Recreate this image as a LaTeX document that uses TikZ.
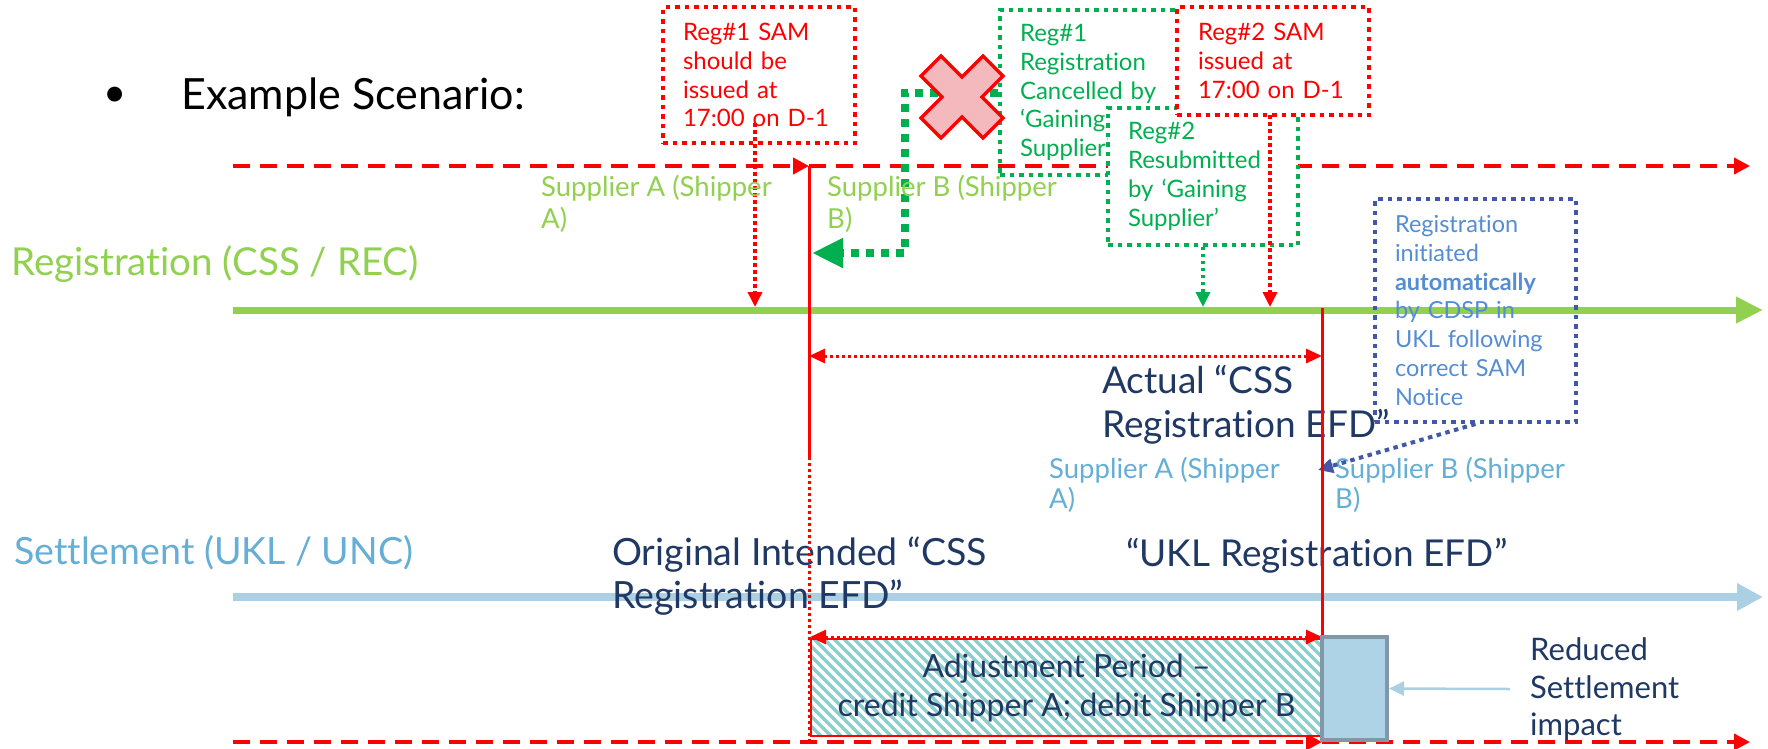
\documentclass[tikz,border=0pt]{standalone}
\usepackage{fontspec}
\setmainfont{Lato}[Ligatures={NoCommon,NoContextual}]
\usetikzlibrary{arrows.meta}
\definecolor{regred}{RGB}{255,0,0}
\definecolor{reggreen}{RGB}{146,208,80}
\definecolor{boxgreen}{RGB}{0,176,80}
\definecolor{setblue}{RGB}{172,208,227}
\definecolor{lblblue}{RGB}{101,174,214}
\definecolor{navy}{RGB}{31,56,100}
\definecolor{boxblue}{RGB}{66,87,168}
\definecolor{txtblue}{RGB}{84,141,212}
\definecolor{xpink}{RGB}{244,185,189}
\definecolor{hatchc}{RGB}{140,206,206}
\definecolor{impactfill}{RGB}{174,210,230}
\definecolor{impactdraw}{RGB}{128,152,168}
\tikzset{
  reddash/.style={draw=regred, line width=4pt, dash pattern=on 17pt off 10pt, -{Triangle[length=16pt,width=16pt]}},
  tlbox/.style={rectangle, line width=4pt, dash pattern=on 4.5pt off 5pt, inner xsep=20pt, inner ysep=0pt, align=left, font=\fontsize{24pt}{28.8pt}\selectfont},
  redbox/.style={tlbox, draw=regred, text=regred},
  greenbox/.style={tlbox, draw=boxgreen, text=boxgreen, line width=3.5pt},
  bluebox/.style={tlbox, draw=boxblue, text=txtblue, font=\fontsize{23.5pt}{28.7pt}\selectfont},
  dotarrow/.style={line width=3.5pt, dash pattern=on 3.5pt off 3.5pt, -{Triangle[length=15pt,width=14pt]}},
  dblarrow/.style={draw=regred, line width=3pt, dash pattern=on 3pt off 3pt, {Triangle[length=16pt,width=14pt]}-{Triangle[length=16pt,width=14pt]}},
  lbl/.style={inner sep=0pt, anchor=west, align=left},
  suplbl/.style={lbl, font=\fontsize{27.5pt}{31.5pt}\selectfont},
  bigtxt/.style={lbl, text=navy, font=\fontsize{37pt}{44pt}\selectfont},
}
\begin{document}
\begin{tikzpicture}[x=1pt,y=-1pt]
\useasboundingbox (0,0) rectangle (1768,748);
% coordinates
\coordinate (dl1) at (233,166);
\coordinate (v1top) at (809,166);
\coordinate (dr1) at (1750,166);
\coordinate (dl2) at (233,742);
\coordinate (v2bot) at (1322,742);
\coordinate (dr2) at (1750,742);
\coordinate (v1mid) at (809,457);
\coordinate (v1bot) at (809,742);
\coordinate (v2top) at (1322,308);
\coordinate (gl) at (233,310);
\coordinate (gr) at (1763,310);
\coordinate (sl) at (233,597);
\coordinate (sr) at (1763,597);

% timeline lines
\draw[reddash] (dl1) -- (v1top);
\draw[reddash] (v1top) -- (dr1);
\draw[reddash] (dl2) -- (v2bot);
\draw[reddash] (v2bot) -- (dr2);
\draw[reggreen, line width=7pt, -{Triangle[length=27pt,width=25pt]}] (gl) -- (gr);
\draw[setblue, line width=8pt, -{Triangle[length=26pt,width=26pt]}] (sl) -- (sr);

% boxes
\node[greenbox, minimum width=190pt, minimum height=165pt, text width=150pt] (can1) at (1095,92.5) {Reg\#1\\Registration\\Cancelled by\\‘Gaining\\Supplier’};
\coordinate (gturn) at (905,253);
\coordinate (gtip) at (812,253);
\draw[boxgreen, line width=8pt, dash pattern=on 8pt off 7pt, -{Triangle[length=31pt,width=28pt]}] (can1.west) -| (gturn) -- (gtip);
\coordinate (xc) at (962,97);
\draw[regred, fill=xpink, line width=3.5pt, line join=miter, shift={(xc)}]
  (-41,-21) -- (-21,-41) -- (0,-20) -- (21,-41) -- (41,-21) -- (20,0) -- (41,21) -- (21,41) -- (0,20) -- (-21,41) -- (-41,21) -- (-20,0) -- cycle;
\node[redbox, fill=white, minimum width=192pt, minimum height=136pt, text width=152pt] (sam1) at (759,75) {Reg\#1 SAM\\should be\\issued at\\17:00 on D-1};
\node[greenbox, fill=white, minimum width=190pt, minimum height=137pt, text width=150pt] (res2) at (1203,176.5) {Reg\#2\\Resubmitted\\by ‘Gaining\\Supplier’};
\node[redbox, fill=white, minimum width=192pt, minimum height=108pt, text width=150pt] (sam2) at (1273,61) {Reg\#2 SAM\\issued at\\17:00 on D-1};

% box arrows
\coordinate (s1a) at (755,123);
\coordinate (s1b) at (755,307);
\draw[dotarrow, regred] (s1a) -- (s1b);
\coordinate (s2a) at (1270,115);
\coordinate (s2b) at (1270,307);
\draw[dotarrow, regred] (s2a) -- (s2b);
\coordinate (r2b) at (1203,307);
\draw[dotarrow, boxgreen] (res2.south) -- (r2b);

% labels
\node[inner sep=0pt, font=\fontsize{40pt}{46pt}\selectfont] (bullet) at (115,97) {•};
\node[lbl, font=\fontsize{43pt}{48pt}\selectfont] (example) at (181,97) {Example Scenario:};
\node[lbl, text=reggreen, font=\fontsize{38.5pt}{44pt}\selectfont] (reglbl) at (11,264) {Registration (CSS / REC)};
\node[lbl, text=lblblue, font=\fontsize{37.5pt}{44pt}\selectfont] (setlbl) at (14,553) {Settlement (UKL / UNC)};
\node[suplbl, text=reggreen] (supA1) at (541,204) {Supplier A (Shipper\\A)};
\node[suplbl, text=reggreen] (supB1) at (827,204) {Supplier B (Shipper\\B)};
\node[suplbl, text=lblblue, font=\fontsize{27.5pt}{30pt}\selectfont] (supA2) at (1049,485) {Supplier A (Shipper\\A)};
\node[suplbl, text=lblblue, font=\fontsize{27.5pt}{30pt}\selectfont] (supB2) at (1335,485) {Supplier B (Shipper\\B)};
\node[bigtxt] (actual) at (1102,405) {Actual “CSS\\Registration EFD”};
\node[bigtxt, font=\fontsize{37.5pt}{43pt}\selectfont] (orig) at (612,576.5) {Original Intended “CSS\\Registration EFD”};
\node[bigtxt] (ukl) at (1126,556) {“UKL Registration EFD”};

% blue box
\node[bluebox, minimum width=201pt, minimum height=223pt, text width=161pt] (auto) at (1475.5,310.5) {Registration\\initiated\\\textbf{automatically}\\by CDSP in\\UKL following\\correct SAM\\Notice};
\coordinate (btip) at (1318,470);
\draw[boxblue, line width=4pt, dash pattern=on 4.5pt off 4.5pt, -{Triangle[length=15pt,width=14pt]}] (auto.south) -- (btip);

% red verticals
\draw[regred, line width=3pt] (v1top) -- (v1mid);
\draw[regred, line width=3pt, dash pattern=on 3pt off 3pt] (v1mid) -- (v1bot);
\draw[regred, line width=3pt] (v2top) -- (v2bot);
\coordinate (da1) at (809,356);
\coordinate (da2) at (1322,356);
\draw[dblarrow] (da1) -- (da2);

% adjustment period
\begin{scope}
\clip (811,639) rectangle (1322,736);
\fill[white] (811,639) rectangle (1322,736);
\foreach \i in {0,10,...,620} \draw[hatchc, line width=3.5pt] (710+\i,635) -- ++(105,105);
\end{scope}
\node[draw=regred, line width=2pt, minimum width=511pt, minimum height=97pt, inner sep=0pt, align=center, text=navy, font=\fontsize{32pt}{39pt}\selectfont] (adj) at (1066.5,687.5) {Adjustment Period –\\credit Shipper A; debit Shipper B};
\coordinate (db1) at (810,637);
\coordinate (db2) at (1322,637);
\draw[dblarrow] (db1) -- (db2);
\node[draw=impactdraw, fill=impactfill, line width=4pt, minimum width=65pt, minimum height=103pt, inner sep=0pt] (imp) at (1354.5,688.5) {};
\coordinate (itail) at (1510,689);
\draw[setblue, line width=2.5pt, -{Triangle[length=15pt,width=14pt]}] (itail) -- (imp.east);
\node[lbl, text=navy, font=\fontsize{31pt}{37.5pt}\selectfont] (reduced) at (1530,689.5) {Reduced\\Settlement\\impact};
\end{tikzpicture}
\end{document}
